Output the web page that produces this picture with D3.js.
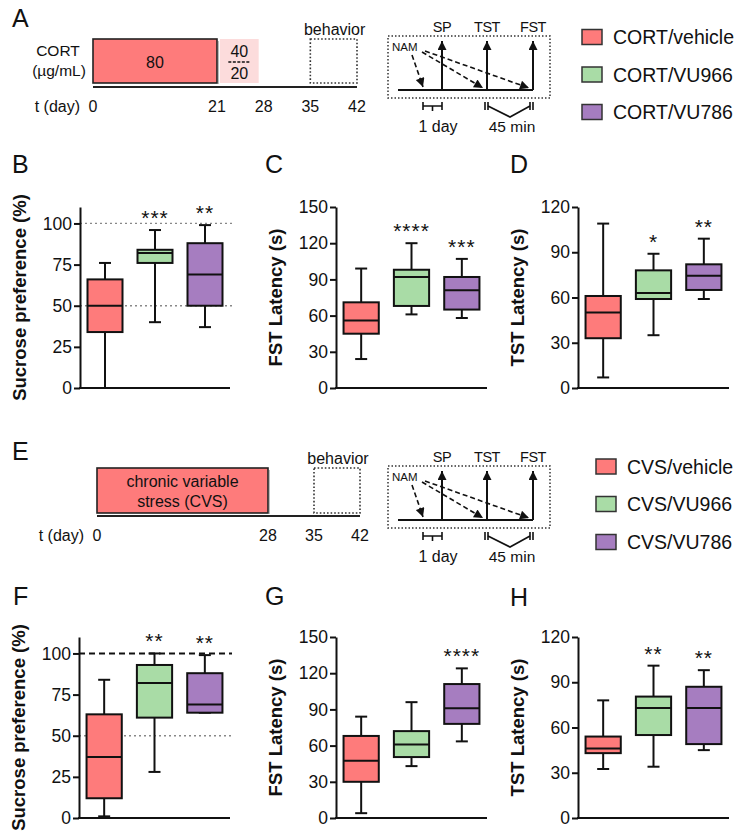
<!DOCTYPE html>
<html><head><meta charset="utf-8">
<script src="https://cdn.jsdelivr.net/npm/d3@7"></script>
<style>
body{margin:0;background:#fff;}
svg text{font-family:"Liberation Sans",Arial,Helvetica,sans-serif;fill:#111;}
</style></head><body>
<svg id="fig" width="750" height="839"></svg>
<script>
// ---------------- data ----------------
const cortGroups = ["CORT/vehicle", "CORT/VU966", "CORT/VU786"];
const cvsGroups = ["CVS/vehicle", "CVS/VU966", "CVS/VU786"];
const groupColors = ["#fe7b7b", "#a9dca6", "#a67dc0"];
// box stats: [min, q1, median, q3, max]
const sucroseCORT = [[0, 34, 50, 66, 76], [40, 76, 82, 84, 96], [37, 50, 69, 88, 99]];
const fstCORT = [[24, 45, 56, 71, 99], [61, 68, 92, 98, 120], [58, 65, 81, 92, 107]];
const tstCORT = [[7, 33, 50, 61, 109], [35, 59, 63, 78, 89], [59, 65, 74.5, 82, 99]];
const sucroseCVS = [[1, 12, 37, 63, 84], [28, 61, 82, 93, 100], [64, 64, 69, 88, 99]];
const fstCVS = [[4, 30, 47.5, 68, 84], [43, 50.5, 61, 72, 96], [63.5, 78, 91, 111, 124]];
const tstCVS = [[32.5, 43, 46, 54, 78], [34, 55, 73, 80.5, 101], [45, 49, 73, 87, 98]];
const starsB = ["", "***", "**"];
const starsC = ["", "****", "***"];
const starsD = ["", "*", "**"];
const starsF = ["", "**", "**"];
const starsG = ["", "", "****"];
const starsH = ["", "**", "**"];
const sucroseTicks = [0, 25, 50, 75, 100];
const fstTicks = [0, 30, 60, 90, 120, 150];
const tstTicks = [0, 30, 60, 90, 120];
const cortDayTicks = [0, 21, 28, 35, 42];
const cvsDayTicks = [0, 28, 35, 42];
const cortDose = "80";
const cortTaper = ["40", "20"];
const cvsLabel = ["chronic variable", "stress (CVS)"];
const behaviorWindow = [35, 42];
const testLabels = ["SP", "TST", "FST"];

// ---------------- drawing ----------------
const svg = d3.select("#fig");
svg.append("rect").attr("width", 750).attr("height", 839).attr("fill", "#fff");

const defs = svg.append("defs");
defs.append("marker").attr("id", "ah").attr("viewBox", "0 0 10 10")
  .attr("refX", 10).attr("refY", 5).attr("markerWidth", 11).attr("markerHeight", 9)
  .attr("markerUnits", "userSpaceOnUse").attr("orient", "auto")
  .append("path").attr("d", "M0,0L10,5L0,10z").attr("fill", "#111");

function letter(t, x, y) {
  svg.append("text").attr("x", x).attr("y", y).attr("font-size", 25).text(t);
}

function boxPanel(o) {
  const g = svg.append("g");
  const x = d3.scaleBand().domain(d3.range(o.data.length)).range([o.x0, o.x1])
    .paddingInner(0.3).paddingOuter(0.15);
  const y = d3.scaleLinear().domain([0, o.ymax]).range([o.yb, o.yt]);

  // reference lines
  (o.refs || []).forEach(r => {
    g.append("line").attr("x1", o.x0).attr("x2", o.x1 + 2)
      .attr("y1", y(r.v)).attr("y2", y(r.v))
      .attr("stroke", r.dash ? "#111" : "#888")
      .attr("stroke-width", r.dash ? 2 : 1.3)
      .attr("stroke-dasharray", r.dash ? "6,4" : "2,3");
  });

  const cap = 12;
  o.data.forEach((d, i) => {
    const cx = x(i) + x.bandwidth() / 2;
    const bw = x.bandwidth();
    const gg = g.append("g").attr("stroke", "#111").attr("stroke-width", 2);
    gg.append("line").attr("x1", cx).attr("x2", cx).attr("y1", y(d[0])).attr("y2", y(d[1]));
    gg.append("line").attr("x1", cx).attr("x2", cx).attr("y1", y(d[3])).attr("y2", y(d[4]));
    gg.append("line").attr("x1", cx - cap / 2).attr("x2", cx + cap / 2).attr("y1", y(d[0])).attr("y2", y(d[0]));
    gg.append("line").attr("x1", cx - cap / 2).attr("x2", cx + cap / 2).attr("y1", y(d[4])).attr("y2", y(d[4]));
    gg.append("rect").attr("x", x(i)).attr("width", bw)
      .attr("y", y(d[3])).attr("height", Math.max(0.5, y(d[1]) - y(d[3])))
      .attr("fill", groupColors[i]);
    gg.append("line").attr("x1", x(i)).attr("x2", x(i) + bw).attr("y1", y(d[2])).attr("y2", y(d[2]));
    if (o.stars[i]) {
      g.append("text").attr("x", cx).attr("y", y(d[4]) - 13 + 8)
        .attr("text-anchor", "middle").attr("font-size", 21)
        .attr("letter-spacing", 1).text(o.stars[i]);
    }
  });

  // axes
  const ya = g.append("g").attr("transform", `translate(${o.x0},0)`)
    .call(d3.axisLeft(y).tickValues(o.ticks).tickSize(6).tickSizeOuter(0).tickPadding(2));
  ya.select(".domain").attr("stroke", "#111").attr("stroke-width", 2);
  ya.selectAll(".tick line").attr("stroke", "#111").attr("stroke-width", 2);
  ya.selectAll(".tick text").attr("font-size", 17.5).attr("font-family", "Liberation Sans, Arial, sans-serif").attr("fill", "#111");
  const xa = g.append("g").attr("transform", `translate(0,${o.yb})`)
    .call(d3.axisBottom(x).tickSize(0).tickSizeOuter(0).tickFormat(""));
  xa.select(".domain").attr("stroke", "#111").attr("stroke-width", 2).attr("d", `M${o.x0 - 1},0H${o.x1}`);

  g.append("text").attr("transform", `translate(${o.x0 - 54},${(o.yt + o.yb) / 2}) rotate(-90)`)
    .attr("text-anchor", "middle").attr("font-size", 18.5).attr("font-weight", "bold").text(o.title);
}

function timeline(o) {
  const g = svg.append("g");
  const x = d3.scaleLinear().domain(o.dom).range(o.rng);
  // main phase box
  g.append("rect").attr("x", x(0)).attr("y", o.yTop).attr("width", x(o.phaseEnd) - x(0))
    .attr("height", o.yBot - o.yTop).attr("fill", groupColors[0])
    .attr("stroke", "#222").attr("stroke-width", 1.6);
  g.append("line").attr("x1", x(o.phaseEnd) + 1.5).attr("x2", x(o.phaseEnd) + 1.5)
    .attr("y1", o.yTop + 2).attr("y2", o.yBot + 1).attr("stroke", "#bbb").attr("stroke-width", 1);
  const cx = (x(0) + x(o.phaseEnd)) / 2;
  o.boxText.forEach((t, i) => {
    g.append("text").attr("x", cx).attr("y", o.boxTextY[i]).attr("text-anchor", "middle")
      .attr("font-size", 16).text(t);
  });
  if (o.taper) {
    const tx0 = x(o.phaseEnd) + 3, tx1 = x(28) - 5;
    g.append("rect").attr("x", tx0).attr("y", o.yTop).attr("width", tx1 - tx0)
      .attr("height", o.yBot - o.yTop).attr("fill", "#fcdcdc");
    const tc = (tx0 + tx1) / 2;
    g.append("text").attr("x", tc).attr("y", o.yTop + 18).attr("text-anchor", "middle").attr("font-size", 16).text(o.taper[0]);
    g.append("line").attr("x1", tc - 11).attr("x2", tc + 11).attr("y1", o.yTop + 23).attr("y2", o.yTop + 23)
      .attr("stroke", "#111").attr("stroke-width", 1.3).attr("stroke-dasharray", "3,1.5");
    g.append("text").attr("x", tc).attr("y", o.yTop + 40).attr("text-anchor", "middle").attr("font-size", 16).text(o.taper[1]);
  }
  // baseline
  g.append("line").attr("x1", x(0)).attr("x2", x(42)).attr("y1", o.yLine).attr("y2", o.yLine)
    .attr("stroke", "#222").attr("stroke-width", 2);
  // behavior window
  g.append("rect").attr("x", x(behaviorWindow[0])).attr("y", o.yTop)
    .attr("width", x(behaviorWindow[1]) - x(behaviorWindow[0])).attr("height", o.yBot - o.yTop)
    .attr("fill", "none").attr("stroke", "#333").attr("stroke-width", 1.6).attr("stroke-dasharray", "1.6,2");
  g.append("text").attr("x", (x(behaviorWindow[0]) + x(behaviorWindow[1])) / 2 + 1)
    .attr("y", o.yTop - 4).attr("text-anchor", "middle").attr("font-size", 16).text("behavior");
  // day ticks
  o.ticks.forEach(t => {
    g.append("text").attr("x", x(t)).attr("y", o.yTick).attr("text-anchor", "middle")
      .attr("font-size", 16).text(t);
  });
  g.append("text").attr("x", x(0) - 13).attr("y", o.yTick).attr("text-anchor", "end")
    .attr("font-size", 16).text("t (day)");
}

function schematic(ox, oy) {
  const g = svg.append("g").attr("transform", `translate(${ox},${oy})`);
  g.append("rect").attr("x", 0).attr("y", 0).attr("width", 162).attr("height", 62)
    .attr("fill", "none").attr("stroke", "#333").attr("stroke-width", 1.5).attr("stroke-dasharray", "1.5,2");
  g.append("line").attr("x1", 10).attr("x2", 145).attr("y1", 54).attr("y2", 54)
    .attr("stroke", "#111").attr("stroke-width", 2);
  const tx = [54, 99, 145];
  testLabels.forEach((t, i) => {
    g.append("line").attr("x1", tx[i]).attr("x2", tx[i]).attr("y1", 54).attr("y2", 5)
      .attr("stroke", "#111").attr("stroke-width", 2).attr("marker-end", "url(#ah)");
    g.append("text").attr("x", tx[i]).attr("y", -4).attr("text-anchor", "middle")
      .attr("font-size", 14.5).attr("letter-spacing", -0.5).text(t);
  });
  g.append("text").attr("x", 4).attr("y", 15).attr("font-size", 11.5).text("NAM");
  const dashed = [[[24, 19], [35, 51]], [[34, 16], [95, 52]], [[37, 15], [141, 52]]];
  dashed.forEach(p => {
    g.append("line").attr("x1", p[0][0]).attr("y1", p[0][1]).attr("x2", p[1][0]).attr("y2", p[1][1])
      .attr("stroke", "#111").attr("stroke-width", 1.6).attr("stroke-dasharray", "5,3")
      .attr("marker-end", "url(#ah)");
  });
  // 1 day bar
  const s = g.append("g").attr("stroke", "#111").attr("stroke-width", 1.6).attr("fill", "none");
  s.append("path").attr("d", "M35,66V74M35,70H54M54,66V74M44.5,70V75");
  // 45 min
  s.append("path").attr("d", "M97,66V74M100,66V74M142,66V74M145,66V74");
  s.append("path").attr("d", "M100,70L122,81L142,70");
  g.append("text").attr("x", 50).attr("y", 96).attr("text-anchor", "middle").attr("font-size", 16).text("1 day");
  g.append("text").attr("x", 124).attr("y", 96).attr("text-anchor", "middle").attr("font-size", 15.5).text("45 min");
}

function legend(groups, bx, tx, ys) {
  groups.forEach((t, i) => {
    svg.append("rect").attr("x", bx).attr("y", ys[i] - 7.5).attr("width", 20).attr("height", 15)
      .attr("fill", groupColors[i]).attr("stroke", "#333").attr("stroke-width", 1.5);
    svg.append("text").attr("x", tx).attr("y", ys[i] + 7).attr("font-size", 19.5).text(t);
  });
}

// ---- Panel A ----
letter("A", 12, 27);
svg.append("text").attr("x", 58).attr("y", 56).attr("text-anchor", "middle").attr("font-size", 15.5).text("CORT");
svg.append("text").attr("x", 59).attr("y", 76).attr("text-anchor", "middle").attr("font-size", 15.5).text("(µg/mL)");
timeline({dom: [0, 21, 42], rng: [93, 217, 357], phaseEnd: 21, yTop: 39, yBot: 83, yLine: 87,
  yTick: 112, ticks: cortDayTicks, boxText: [cortDose], boxTextY: [68], taper: cortTaper});
schematic(388, 36);
legend(cortGroups, 582, 613, [37, 74.5, 112]);

// ---- B, C, D ----
letter("B", 12, 173);
letter("C", 265, 173);
letter("D", 510, 173);
boxPanel({x0: 80, x1: 230, yb: 388, yt: 207, ymax: 110, ticks: sucroseTicks, data: sucroseCORT,
  stars: starsB, title: "Sucrose preference (%)", refs: [{v: 100}, {v: 50}]});
boxPanel({x0: 336, x1: 487, yb: 388, yt: 207, ymax: 150, ticks: fstTicks, data: fstCORT,
  stars: starsC, title: "FST Latency (s)"});
boxPanel({x0: 578, x1: 729, yb: 388, yt: 207, ymax: 120, ticks: tstTicks, data: tstCORT,
  stars: starsD, title: "TST Latency (s)"});

// ---- Panel E ----
letter("E", 12, 460);
timeline({dom: [0, 28, 42], rng: [97, 268, 360], phaseEnd: 28, yTop: 468, yBot: 513, yLine: 516,
  yTick: 541, ticks: cvsDayTicks, boxText: cvsLabel, boxTextY: [487, 507]});
schematic(388, 466);
legend(cvsGroups, 596, 627, [466.5, 504, 542]);

// ---- F, G, H ----
letter("F", 13, 605);
letter("G", 265, 605);
letter("H", 510, 606);
boxPanel({x0: 79, x1: 230, yb: 818, yt: 637, ymax: 110, ticks: sucroseTicks, data: sucroseCVS,
  stars: starsF, title: "Sucrose preference (%)", refs: [{v: 100, dash: true}, {v: 50}]});
boxPanel({x0: 336, x1: 487, yb: 818, yt: 637, ymax: 150, ticks: fstTicks, data: fstCVS,
  stars: starsG, title: "FST Latency (s)"});
boxPanel({x0: 578, x1: 729, yb: 818, yt: 637, ymax: 120, ticks: tstTicks, data: tstCVS,
  stars: starsH, title: "TST Latency (s)"});
</script>
</body></html>
